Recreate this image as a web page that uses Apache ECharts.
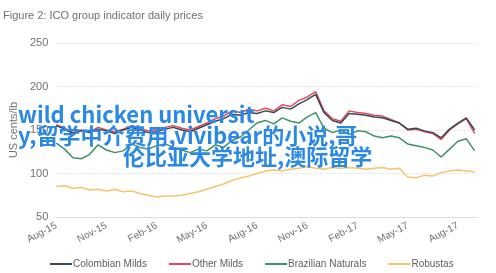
<!DOCTYPE html>
<html>
<head>
<meta charset="utf-8">
<script src="https://cdn.jsdelivr.net/npm/echarts@6/dist/echarts.min.js"></script>
<style>
html,body{margin:0;padding:0;background:#fff;}
#c{width:496px;height:273px;}
</style>
</head>
<body>
<div id="c"></div>
<script>
// month offsets since Aug-2015 (semi-monthly samples)
const months = [0,0.5,1,1.5,2,2.5,3,3.5,4,4.5,5,5.5,6,6.5,7,7.5,8,8.5,9,9.5,10,10.5,11,11.5,12,12.5,13,13.5,14,14.5,15,15.5,16,16.5,17,17.5,18,18.5,19,19.5,20,20.5,21,21.5,22,22.5,23,23.5,24,24.5,25];
const tickLabels = ['Aug-15','Nov-15','Feb-16','May-16','Aug-16','Nov-16','Feb-17','May-17','Aug-17'];
const seriesNames = ['Colombian Milds','Other Milds','Brazilian Naturals','Robustas'];
const colombianMilds = [155,151,146,149,147,151,149,146,150,153,150,147,148,151,153,150,148,152,156,160,163,168,167,170,169,172,170,176,174,180,185,191,170,161,158,169,168,167,165,164,161,158,151,152,149,147,141,151,158,164,150];
const otherMilds     = [156,152,147,150,148,153,150,148,151,155,152,149,150,153,155,152,150,154,158,163,166,172,170,174,172,175,172,179,177,184,188,194,172,163,160,172,170,169,167,166,162,158,150,151,148,146,139,150,157,163,146];
const brazilianNaturals = [135,128,118,117,122,133,127,124,126,134,130,128,132,134,130,127,124,128,126,133,130,138,142,150,158,161,157,164,160,158,165,170,152,147,150,145,149,148,143,141,143,141,134,132,130,127,119,128,137,140,126];
const robustas = [85,86,83,84,81,82,80,82,79,80,77,75,73,74,74,75,77,79,82,85,88,92,95,97,100,103,104,103,105,106,108,106,105,107,106,107,106,105,106,107,105,106,96,95,98,97,101,103,104,103,102];
const watermarkLines = ['wild chicken universit','y,留学中介费用,vivibear的小说,哥','伦比亚大学地址,澳际留学'];

const colors = ['#34495a','#e34b4f','#3f9268','#f3c46c'];
const allValues = [colombianMilds, otherMilds, brazilianNaturals, robustas];
const pair = v => months.map((m,i)=>[m,v[i]]);

const chart = echarts.init(document.getElementById('c'));
const series = seriesNames.map((n,k)=>({
  name:n, type:'line', data:pair(allValues[k]), showSymbol:false,
  lineStyle:{width:1.5,color:colors[k]}, itemStyle:{color:colors[k]},
  z: [5,4,3,2][k], animation:false
}));
const wmFont = 'bold 22px "Noto Sans CJK SC"';
chart.setOption({
  animation:false,
  textStyle:{fontFamily:'Liberation Sans, Arial, sans-serif'},
  title:{text:'Figure 2: ICO group indicator daily prices',left:3,top:10,padding:0,
    textStyle:{fontSize:11,fontWeight:'normal',color:'#707070'}},
  grid:{left:53,right:18,top:43,bottom:56},
  xAxis:{type:'value',min:0,max:25.2,interval:3,
    axisLine:{show:true,lineStyle:{color:'#dddddd'}},axisTick:{show:false},
    splitLine:{show:false},
    axisLabel:{rotate:28,fontSize:10,color:'#707070',margin:8,
      formatter:v=>tickLabels[Math.round(v/3)]||'',showMaxLabel:false}},
  yAxis:{type:'value',min:50,max:250,interval:50,
    name:'US cents/lb',nameLocation:'middle',nameGap:34,
    nameTextStyle:{fontSize:11,color:'#707070'},
    axisLine:{show:false},axisTick:{show:false},
    axisLabel:{fontSize:11,color:'#707070',margin:8,showMinLabel:true},
    splitLine:{lineStyle:{color:'#cfcfcf',type:[1,2]}}},
  legend:{bottom:4,left:50,padding:0,itemWidth:22,itemHeight:2,itemGap:22,icon:'rect',
    textStyle:{fontSize:10,color:'#606060',padding:[0,0,0,-4]},data:seriesNames},
  series:series,
  graphic:[
    {type:'text',left:18,top:104,z:100,style:{text:watermarkLines[0],font:wmFont,fill:'#2a88e6'}},
    {type:'text',left:18,top:125,z:100,style:{text:watermarkLines[1],font:wmFont,fill:'#2a88e6'}},
    {type:'text',left:123,top:146,z:100,style:{text:watermarkLines[2],font:wmFont,fill:'#2a88e6'}}
  ]
});
</script>
</body>
</html>
